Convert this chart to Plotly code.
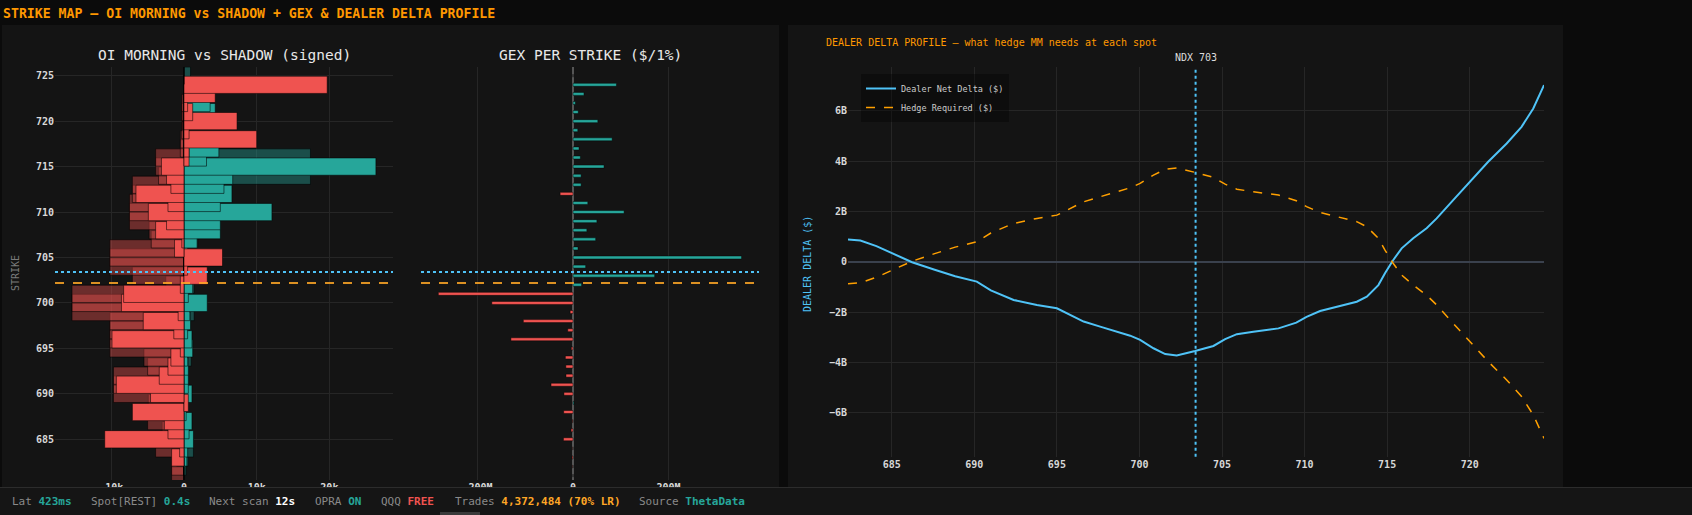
import plotly.graph_objects as go

W, H = 1692, 515

# ---------------- data ----------------
strikes = list(range(681, 726))  # 681 .. 725

# OI (thousands of contracts), signed, per strike 681..725
morning_puts = [-1.7, -1.7, -1.0, -3.9, -3.9, -3.0, -5.0, -2.0, -4.9, -9.7,
                -9.7, -9.7, -5.0, -5.5, -10.2, -10.2, -10.2, -10.2, -15.4, -15.4,
                -15.4, -2.5, -7.1, -10.2, -10.2, -10.2, -4.5, -4.8, -7.5, -7.5,
                -7.5, -7.1, -7.1, -3.5, -3.9, -3.9, -0.5, -0.5, -0.3, -0.2,
                -0.3, -0.3, 0, 0, 0]
morning_calls = [0, 0.3, 0.6, 1.3, 0.8, 0.4, 0.3, 0.2, 0.3, 0.4,
                 0.5, 0.3, 0.4, 1.0, 0.6, 0.5, 0.7, 0.5, 1.4, 0.8,
                 0, 1.4, 0, 0, 0, 0.5, 1.9, 0, 0, 0,
                 0, 0, 0, 17.4, 0.5, 17.4, 0, 0, 0, 0,
                 0, 0, 0, 0, 0.9]
shadow_calls = [0, 0.2, 0.4, 0.5, 1.3, 0.7, 1.1, 0.3, 0.6, 1.1,
                0.6, 0.6, 0.6, 0.5, 1.2, 1.1, 0.5, 0.9, 0.8, 3.2,
                0.6, 1.2, 0, 0, 0, 0.5, 1.8, 5.0, 5.0, 12.1,
                5.0, 6.6, 5.5, 6.7, 26.4, 3.1, 4.8, 0, 0, 0,
                4.3, 3.6, 0, 0, 0]
shadow_puts = [0, 0, -1.7, -0.6, -10.9, -2.2, -2.7, -7.1, 0.6, -4.6,
               -9.3, -3.4, -2.2, -1.8, -0.5, -9.9, -1.4, -5.6, -0.8, -8.6,
               -8.3, -0.5, 3.2, 0.5, 5.3, -1.3, -0.3, -3.9, -2.4, -4.9,
               -2.2, -6.6, -1.8, -2.4, -3.1, 0.7, 0.7, 10.0, 0.7, 7.3,
               1.2, 0.5, 4.3, 19.7, 0]

# GEX per strike ($M per 1%)
gex = [0, -0.5, -2, -0.5, -20, -4, -1, -19.5, 2, -19,
       -46, -14.7, -15, -16, -3.5, -130, -11, -104, -6, -170,
       -282, 18, 171, 26.5, 353, 10.5, 47.5, 29, 50, 107,
       31, -27, 17, 17, 65, 15.4, 12.6, 82, 10, 52,
       11, 5, 23, 91, 0]

spot = 703.4
level_line = 702.2

# Dealer delta profile ($B) vs hypothetical spot
spot_grid = [682.35, 683.1, 684.07, 685.12, 686.23, 687.6, 688.84, 690.15, 691.0, 692.38,
             693.79, 695.0, 695.81, 696.62, 697.62, 698.63, 699.44, 700.04, 700.85, 701.56,
             702.26, 703.37, 704.48, 705.19, 705.9, 706.9, 708.42, 709.5, 710.12, 710.94,
             712.0, 713.16, 713.77, 714.47, 714.87, 715.34, 715.88, 716.58, 717.39, 718.0,
             719.0, 720.02, 721.12, 722.24, 723.14, 723.85, 724.5]
dealer_delta = [0.88, 0.84, 0.62, 0.32, -0.02, -0.32, -0.58, -0.79, -1.14, -1.52,
                -1.72, -1.85, -2.12, -2.38, -2.58, -2.78, -2.94, -3.11, -3.44, -3.67,
                -3.73, -3.55, -3.35, -3.08, -2.88, -2.78, -2.65, -2.42, -2.19, -1.96,
                -1.78, -1.59, -1.39, -0.93, -0.46, 0.04, 0.53, 0.93, 1.33, 1.72,
                2.45, 3.18, 3.97, 4.70, 5.36, 6.09, 7.02]
hedge_required = [-0.88, -0.84, -0.62, -0.32, 0.02, 0.32, 0.58, 0.79, 1.14, 1.52,
                  1.72, 1.85, 2.12, 2.38, 2.58, 2.78, 2.94, 3.11, 3.44, 3.67,
                  3.73, 3.55, 3.35, 3.08, 2.88, 2.78, 2.65, 2.42, 2.19, 1.96,
                  1.78, 1.59, 1.39, 0.93, 0.46, -0.04, -0.53, -0.93, -1.33, -1.72,
                  -2.45, -3.18, -3.97, -4.70, -5.36, -6.09, -7.02]

oi_ticks = [-10, 0, 10, 20]
oi_ticktext = ["\u221210k", "0", "10k", "20k"]
gex_ticks = [-200, 0, 200]
gex_ticktext = ["\u2212200M", "0", "200M"]
strike_ticks = [685, 690, 695, 700, 705, 710, 715, 720, 725]
spot_ticks = [685, 690, 695, 700, 705, 710, 715, 720]
delta_ticks = [-6, -4, -2, 0, 2, 4, 6]
delta_ticktext = ["\u22126B", "\u22124B", "\u22122B", "0", "2B", "4B", "6B"]

status_items = [
    ("Lat", "423ms", "#26a69a"),
    ("Spot[REST]", "0.4s", "#26a69a"),
    ("Next scan", "12s", "#ffffff"),
    ("OPRA", "ON", "#26a69a"),
    ("QQQ", "FREE", "#ef5350"),
    ("Trades", "4,372,484 (70% LR)", "#ffa726"),
    ("Source", "ThetaData", "#26a69a"),
]
status_x = [10, 89, 207, 313, 379, 453, 637]

# ---------------- styling ----------------
MONO = "DejaVu Sans Mono"
RED = "#ef5350"
TEAL = "#26a69a"
RED_DIM = "rgba(239,83,80,0.40)"
TEAL_DIM = "rgba(38,166,154,0.40)"
BLUE = "#4fc3f7"
ORANGE = "#ffa000"
GRID = "#262626"
PANEL = "#141414"


def px(x):
    return x / W


def py(y):
    return 1 - y / H


fig = go.Figure()

outline = dict(color="rgba(0,0,0,0.55)", width=1)

# OI bars (overlay)
for vals, col in [(morning_puts, RED_DIM), (morning_calls, TEAL_DIM),
                  (shadow_calls, TEAL), (shadow_puts, RED)]:
    fig.add_trace(go.Bar(x=vals, y=strikes, orientation="h", width=1.9,
                         marker=dict(color=col, line=outline),
                         xaxis="x", yaxis="y", showlegend=False))

# GEX bars
fig.add_trace(go.Bar(x=gex, y=strikes, orientation="h", width=0.33,
                     marker=dict(color=[TEAL if v >= 0 else RED for v in gex],
                                 line=dict(color="rgba(0,0,0,0.45)", width=1)),
                     xaxis="x2", yaxis="y2", showlegend=False))

# Dealer delta profile
fig.add_trace(go.Scatter(x=spot_grid, y=dealer_delta, mode="lines",
                         name="Dealer Net Delta ($)",
                         line=dict(color=BLUE, width=2),
                         xaxis="x3", yaxis="y3"))
fig.add_trace(go.Scatter(x=spot_grid, y=hedge_required, mode="lines",
                         name="Hedge Required ($)",
                         line=dict(color=ORANGE, width=1.5, dash="dash"),
                         xaxis="x3", yaxis="y3"))

tickfont = dict(family=MONO, size=10, color="#d8d8d8", weight="bold")

fig.update_layout(
    width=W, height=H, autosize=False,
    margin=dict(l=0, r=0, t=0, b=0),
    paper_bgcolor="#0b0b0b", plot_bgcolor="rgba(0,0,0,0)",
    barmode="overlay",
    font=dict(family=MONO, color="#cccccc"),
    xaxis=dict(domain=[px(55), px(393)], range=[-17.74, 28.75],
               tickvals=oi_ticks, ticktext=oi_ticktext, tickfont=tickfont,
               showgrid=True, gridcolor=GRID, zeroline=True,
               zerolinecolor="#3c3c3c", zerolinewidth=2, anchor="y",
               fixedrange=True),
    yaxis=dict(domain=[py(480), py(66.7)], range=[680.52, 725.99],
               tickvals=strike_ticks, tickfont=tickfont, showgrid=True,
               gridcolor=GRID, zeroline=False, anchor="x"),
    xaxis2=dict(domain=[px(421), px(759)], range=[-318.3, 389.5],
                tickvals=gex_ticks, ticktext=gex_ticktext, tickfont=tickfont,
                showgrid=True, gridcolor=GRID, zeroline=True,
                zerolinecolor="#555555", zerolinewidth=2, anchor="y2"),
    yaxis2=dict(domain=[py(480), py(66.7)], matches="y", showticklabels=False,
                showgrid=False, zeroline=False, anchor="x2"),
    xaxis3=dict(domain=[px(848), px(1544)], range=[682.35, 724.5],
                tickvals=spot_ticks, tickfont=tickfont, showgrid=True,
                gridcolor=GRID, zeroline=False, anchor="y3"),
    yaxis3=dict(domain=[py(456.7), py(66.7)], range=[-7.75, 7.75],
                tickvals=delta_ticks, ticktext=delta_ticktext, tickfont=tickfont,
                showgrid=True, gridcolor=GRID, zeroline=True,
                zerolinecolor="#3a414d", zerolinewidth=2, anchor="x3"),
    legend=dict(x=px(861), y=py(74), xanchor="left", yanchor="top",
                bgcolor="rgba(0,0,0,0.35)", borderwidth=0,
                font=dict(family=MONO, size=8.5, color="#cccccc")),
)

shapes = [
    # panels
    dict(type="rect", xref="paper", yref="paper", x0=px(2), x1=px(779),
         y0=py(487), y1=py(25), fillcolor=PANEL, line=dict(width=0), layer="below"),
    dict(type="rect", xref="paper", yref="paper", x0=px(788), x1=px(1563),
         y0=py(487), y1=py(25), fillcolor=PANEL, line=dict(width=0), layer="below"),
    # status bar (covers clipped tick labels)
    dict(type="rect", xref="paper", yref="paper", x0=0, x1=1,
         y0=0, y1=py(487), fillcolor="#151515", line=dict(width=0), layer="above"),
    dict(type="line", xref="paper", yref="paper", x0=0, x1=1,
         y0=py(487.5), y1=py(487.5), line=dict(color="#2c2c2c", width=1), layer="above"),
    dict(type="rect", xref="paper", yref="paper", x0=px(440), x1=px(480),
         y0=0, y1=py(512), fillcolor="#3a3a3a", line=dict(width=0), layer="above"),
]
for xr in ["x", "x2"]:
    shapes.append(dict(type="line", xref=f"{xr} domain", yref="y", x0=0, x1=1,
                       y0=spot, y1=spot, line=dict(color=BLUE, width=2, dash="dot"),
                       layer="above"))
    shapes.append(dict(type="line", xref=f"{xr} domain", yref="y", x0=0, x1=1,
                       y0=level_line, y1=level_line,
                       line=dict(color="rgba(255,167,38,0.85)", width=2, dash="dash"),
                       layer="above"))
shapes.append(dict(type="line", xref="x3", yref="y3 domain", x0=spot, x1=spot,
                   y0=0, y1=1, line=dict(color=BLUE, width=2, dash="dot"),
                   layer="above"))
fig.update_layout(shapes=shapes)

ann = []


def add_text(x, y, text, size, color, xanchor="left", angle=0, bold=False):
    ann.append(dict(x=px(x), y=py(y), xref="paper", yref="paper", text=text,
                    showarrow=False, xanchor=xanchor, yanchor="middle",
                    textangle=angle,
                    font=dict(family=MONO, size=size, color=color,
                              weight="bold" if bold else "normal")))


add_text(1, 13.5, "STRIKE MAP \u2014 OI MORNING vs SHADOW + GEX & DEALER DELTA PROFILE",
         13.2, "#ff9800", bold=True)
add_text(224, 54.5, "OI MORNING vs SHADOW (signed)", 14.5, "#e8e8e8", xanchor="center")
add_text(590, 54.5, "GEX PER STRIKE ($/1%)", 14.5, "#e8e8e8", xanchor="center")
add_text(824, 42.5, "DEALER DELTA PROFILE \u2014 what hedge MM needs at each spot",
         10, "#ff9800")
ann.append(dict(x=spot, y=py(57), xref="x3", yref="paper", text="NDX 703",
                showarrow=False, xanchor="center", yanchor="middle",
                font=dict(family=MONO, size=10, color="#dddddd")))
add_text(15, 273, "STRIKE", 10, "#7a7a7a", xanchor="center", angle=-90)
add_text(807, 264, "DEALER DELTA ($)", 10, BLUE, xanchor="center", angle=-90)

for (lab, val, col), x0 in zip(status_items, status_x):
    ann.append(dict(x=px(x0), y=py(501), xref="paper", yref="paper",
                    text=f"{lab} <span style='color:{col}'><b>{val}</b></span>",
                    showarrow=False, xanchor="left", yanchor="middle",
                    font=dict(family=MONO, size=11, color="#8a8a8a")))

fig.update_layout(annotations=ann)

fig.write_html("out.html", config={"displayModeBar": False, "responsive": False},
               post_script="document.body.style.margin='0';document.body.style.overflow='hidden';")
